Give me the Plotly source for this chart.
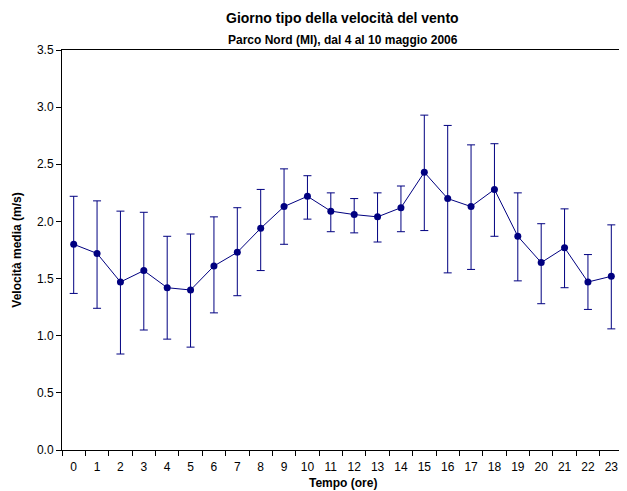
import plotly.graph_objects as go

# Hourly wind speed, Parco Nord (MI), 4-10 May 2006
hours = list(range(24))
mean_speed = [1.80, 1.72, 1.47, 1.57, 1.42, 1.40, 1.61, 1.73, 1.94, 2.13, 2.22, 2.09,
              2.06, 2.04, 2.12, 2.43, 2.20, 2.13, 2.28, 1.87, 1.64, 1.77, 1.47, 1.52]
upper = [2.22, 2.18, 2.09, 2.08, 1.87, 1.89, 2.04, 2.12, 2.28, 2.46, 2.40, 2.25,
         2.20, 2.25, 2.31, 2.93, 2.84, 2.67, 2.68, 2.25, 1.98, 2.11, 1.71, 1.97]
lower = [1.37, 1.24, 0.84, 1.05, 0.97, 0.90, 1.20, 1.35, 1.57, 1.80, 2.02, 1.91,
         1.90, 1.82, 1.91, 1.92, 1.55, 1.58, 1.87, 1.48, 1.28, 1.42, 1.23, 1.06]

err_plus = [u - m for u, m in zip(upper, mean_speed)]
err_minus = [m - l for m, l in zip(mean_speed, lower)]

NAVY = "#000080"
FONT = "Liberation Sans, Arial, sans-serif"

fig = go.Figure()
fig.add_trace(go.Scatter(
    x=hours, y=mean_speed,
    mode="lines+markers",
    line=dict(color=NAVY, width=1),
    marker=dict(color=NAVY, size=7),
    error_y=dict(type="data", symmetric=False, array=err_plus, arrayminus=err_minus,
                 color=NAVY, thickness=1, width=4),
    showlegend=False,
))

# page body adds 8px margin, so size/margins are compensated
fig.update_layout(
    width=615, height=483,
    margin=dict(l=54, r=0, t=42, b=41),
    paper_bgcolor="white", plot_bgcolor="white",
    font=dict(family=FONT, size=11, color="black"),
)

# two-line bold title
fig.add_annotation(text="<b>Giorno tipo della velocità del vento</b>", xref="paper", yref="paper",
                   x=0.5, y=1, yshift=32, showarrow=False, font=dict(size=14), yanchor="middle")
fig.add_annotation(text="<b>Parco Nord (MI), dal 4 al 10 maggio 2006</b>", xref="paper", yref="paper",
                   x=0.5, y=1, yshift=10, showarrow=False, font=dict(size=12), yanchor="middle")
# x axis title as annotation (sits below the shifted tick labels)
fig.add_annotation(text="<b>Tempo (ore)</b>", xref="paper", yref="paper",
                   x=0.5, y=0, yshift=-33, showarrow=False, font=dict(size=12), yanchor="middle")

fig.update_xaxes(
    range=[-0.5, 23.5], tickmode="array", tickvals=hours, ticktext=[str(h) for h in hours],
    ticks="", showgrid=False, zeroline=False,
    showline=True, linecolor="black", linewidth=1, mirror=True,
    minor=dict(tickmode="linear", tick0=0.5, dtick=1, ticks="outside", ticklen=5,
               tickcolor="black", showgrid=False),
    ticklabelstandoff=6,
    tickfont=dict(size=12),
    automargin=False,
)
fig.update_yaxes(
    range=[0, 3.5], dtick=0.5, tickformat=".1f",
    ticks="outside", ticklen=5, tickcolor="black", showgrid=False, zeroline=False,
    showline=True, linecolor="black", linewidth=1, mirror=True,
    title=dict(text="<b>Velocità media (m/s)</b>", standoff=12, font=dict(size=12)),
    tickfont=dict(size=12),
)

fig.write_html("out.html")
